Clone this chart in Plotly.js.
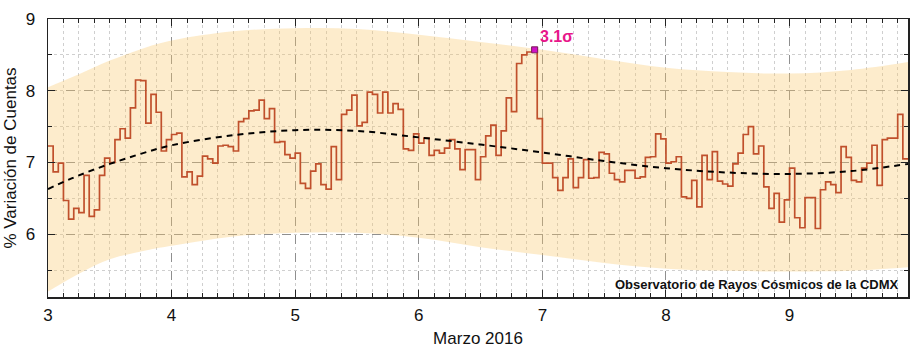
<!DOCTYPE html>
<html>
<head>
<meta charset="utf-8">
<script src="https://cdn.plot.ly/plotly-3.0.1.min.js"></script>
<style>html,body{margin:0;padding:0;background:#fff;}#chart{width:921px;height:350px;}</style>
</head>
<body>
<div id="chart"></div>
<script>
// Hourly % count variation, starting 3 March 2016 00:00 (one value per hour)
const startDay = 3;
const hourlyValues = [
  7.23,6.87,6.99,6.47,6.21,6.36,6.30,6.82,6.25,6.34,6.82,7.06,7.00,7.32,7.47,7.34,7.76,8.15,8.14,7.55,7.95,7.70,7.16,7.32,
  7.39,7.41,6.80,6.87,6.69,6.81,7.09,7.05,6.99,7.23,7.24,7.22,7.16,7.57,7.61,7.72,7.73,7.87,7.61,7.75,7.28,7.29,7.11,7.06,
  7.13,6.71,6.64,6.88,6.98,6.69,6.63,7.22,6.76,7.67,7.73,7.94,7.51,7.56,7.98,7.95,7.69,7.98,7.69,7.82,7.74,7.19,7.17,7.40,
  7.27,7.34,7.10,7.17,7.13,7.20,7.32,7.19,6.90,7.18,7.18,6.76,7.08,7.37,7.52,7.10,7.44,7.90,7.71,8.38,8.50,8.54,8.60,7.61,
  6.99,6.99,6.79,6.61,6.79,7.05,6.65,6.79,7.04,6.78,6.79,7.14,7.12,6.85,6.76,6.73,6.89,6.89,6.78,6.80,7.07,7.08,7.40,7.33,
  6.99,7.01,7.08,6.52,6.50,6.75,6.38,7.10,6.76,7.15,6.74,6.70,6.67,6.98,7.13,7.39,7.50,7.12,7.23,6.66,6.36,6.57,6.17,6.48,
  6.92,6.23,6.09,6.51,6.51,6.08,6.62,6.73,6.69,6.58,7.22,7.07,6.75,6.73,6.92,6.99,7.24,6.68,7.32,7.34,7.34,7.67,7.05,7.05
];

// Smooth fit curve and its band, read at these days
const curveDays  = [3.0, 3.25, 3.5, 3.75, 4.0, 4.5, 5.0, 5.5, 6.0, 6.5, 7.0, 7.5, 8.0, 8.5, 9.0, 9.5, 9.96];
const fitValues  = [6.63, 6.82, 6.98, 7.12, 7.24, 7.38, 7.45, 7.44, 7.35, 7.25, 7.14, 7.02, 6.92, 6.86, 6.84, 6.88, 6.98];
const bandUpper  = [8.05, 8.23, 8.42, 8.58, 8.70, 8.83, 8.87, 8.86, 8.78, 8.68, 8.57, 8.44, 8.32, 8.26, 8.24, 8.29, 8.40];
const bandLower  = [5.20, 5.45, 5.65, 5.76, 5.84, 5.97, 6.02, 6.02, 5.95, 5.82, 5.71, 5.60, 5.52, 5.49, 5.48, 5.49, 5.54];

// Highlighted peak
const peakHour = 94;
const peakLabel = '3.1σ';

const xTickVals = [3,4,5,6,7,8,9];
const xTickText = ['3','4','5','6','7','8','9'];
const yTickVals = [6,7,8,9];
const yTickText = ['6','7','8','9'];

const hourDays = hourlyValues.map((v,i)=> startDay + i/24);
const xEnd = hourDays[hourDays.length-1];

const font = 'Liberation Sans, Arial, sans-serif';

const traces = [
  {x: curveDays, y: bandLower, type:'scatter', mode:'lines', line:{width:0, shape:'spline'}, hoverinfo:'skip', showlegend:false},
  {x: curveDays, y: bandUpper, type:'scatter', mode:'lines', line:{width:0, shape:'spline'}, fill:'tonexty',
   fillcolor:'rgba(250,200,105,0.34)', hoverinfo:'skip', showlegend:false},
  {x: hourDays, y: hourlyValues, type:'scatter', mode:'lines', line:{color:'#c0502c', width:1.7, shape:'hv'}, showlegend:false},
  {x: curveDays, y: fitValues, type:'scatter', mode:'lines', line:{color:'#000', width:2, dash:'6px,5px', shape:'spline'}, showlegend:false},
  {x: [hourDays[peakHour] + 0.5/24], y: [hourlyValues[peakHour]-0.03], type:'scatter', mode:'markers',
   marker:{symbol:'square', size:6, color:'#d010c8', line:{color:'#7a2060', width:1}}, showlegend:false}
];

const axisCommon = {
  showline:true, linecolor:'#222', linewidth:1.5, mirror:'ticks',
  ticks:'inside', ticklen:7, tickwidth:1, tickcolor:'#222',
  showgrid:true, gridcolor:'#8f8f8f', griddash:'dash', gridwidth:1,
  zeroline:false, tickfont:{family:font, size:17, color:'#111'},
};

const layout = {
  width:921, height:350,
  margin:{l:48, r:13, t:19, b:53},
  paper_bgcolor:'#fff', plot_bgcolor:'#fff',
  font:{family:font, color:'#111'},
  xaxis: Object.assign({}, axisCommon, {
    range:[startDay, xEnd], tickvals:xTickVals, ticktext:xTickText,
    ticklabelstandoff:2,
    minor:{dtick:0.125, tick0:3, ticks:'inside', ticklen:4, tickcolor:'#222', showgrid:true, gridcolor:'#cfcfcf', griddash:'dot', gridwidth:1},
    title:{text:'Marzo 2016', font:{family:font, size:17, color:'#111'}, standoff:8}
  }),
  yaxis: Object.assign({}, axisCommon, {
    range:[5.125, 9], tickvals:yTickVals, ticktext:yTickText,
    ticklabelstandoff:8,
    minor:{dtick:0.5, tick0:5, ticks:'inside', ticklen:4, tickcolor:'#222', showgrid:true, gridcolor:'#cfcfcf', griddash:'dot', gridwidth:1},
    title:{text:'% Variación de Cuentas', font:{family:font, size:17, color:'#111'}, standoff:4}
  }),
  annotations:[
    {x: startDay + 95/24 + 0.005, y: 8.76, xref:'x', yref:'y', text:'<b>'+peakLabel+'</b>', showarrow:false,
     xanchor:'left', yanchor:'middle', font:{family:font, size:16, color:'#e8168a'}},
    {x: 0.992, y: 5.30, xref:'paper', yref:'y', text:'<b>Observatorio de Rayos Cósmicos de la CDMX</b>', showarrow:false,
     xanchor:'right', yanchor:'middle', font:{family:font, size:13, color:'#111'}}
  ]
};

Plotly.newPlot('chart', traces, layout, {staticPlot:true, displayModeBar:false});
</script>
</body>
</html>
